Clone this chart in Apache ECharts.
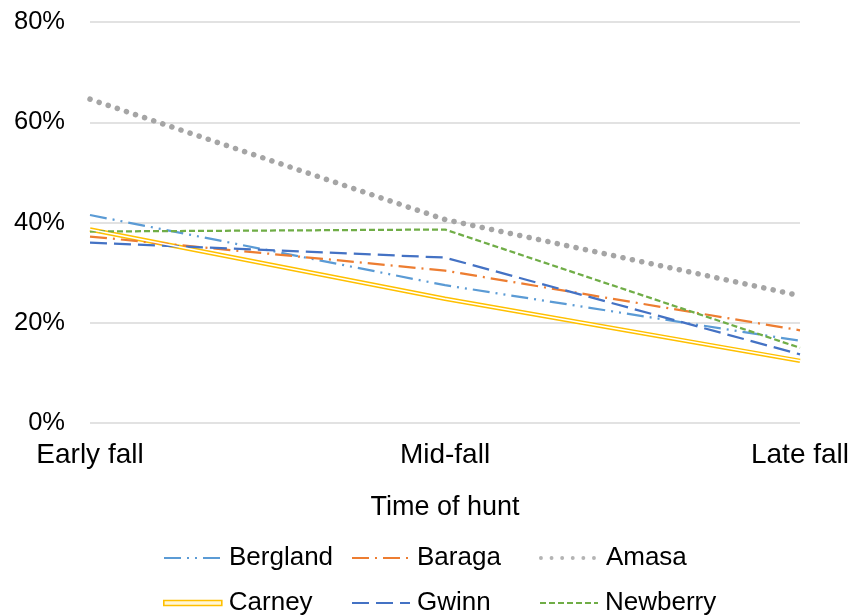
<!DOCTYPE html>
<html>
<head>
<meta charset="utf-8">
<script src="https://cdn.jsdelivr.net/npm/echarts@6/dist/echarts.min.js"></script>
<style>
  html, body { margin: 0; padding: 0; background: #fff; }
  #chart { width: 850px; height: 616px; }
</style>
</head>
<body>
<div id="chart"></div>
<script>
// Hunting periods along the x axis
const periods = ['Early fall', 'Mid-fall', 'Late fall'];

// Share per area (fractions of 1)
const bergland = [0.415, 0.275, 0.164];
const baraga   = [0.372, 0.304, 0.185];
const amasa    = [0.646, 0.406, 0.254];
const carney   = [0.386, 0.248, 0.124];
const gwinn    = [0.360, 0.330, 0.137];
const newberry = [0.382, 0.386, 0.150];

const yTicks = [0, 0.2, 0.4, 0.6, 0.8];

const FONT = '"Liberation Sans", Arial, sans-serif';

function lineSeries(name, data, color, width, type, extra) {
  return Object.assign({
    name: name,
    type: 'line',
    data: data,
    symbol: 'none',
    showSymbol: false,
    silent: true,
    animation: false,
    lineStyle: { color: color, width: width, type: type },
    itemStyle: { color: color }
  }, extra || {});
}

const series = [
  lineSeries('Bergland', bergland, '#5B9BD5', 2.25, [17, 6, 2, 6, 2, 6]),
  lineSeries('Baraga', baraga, '#ED7D31', 2.25, [17, 6, 2, 6]),
  lineSeries('Amasa', amasa, '#A5A5A5', 5, [0.1, 9.5], { lineStyle: { color: '#A5A5A5', width: 5.5, type: [0.1, 9.5], cap: 'round' } }),
  lineSeries('Carney', carney, '#FFC000', 4.5, 'solid', { z: 2 }),
  lineSeries('Gwinn', gwinn, '#4472C4', 2.25, [17, 7]),
  lineSeries('Newberry', newberry, '#70AD47', 2.25, [6, 3]),
  // white core drawn over the Carney stroke for a double-line look
  lineSeries('Carney core', carney, '#FFFFFF', 1.5, 'solid', { z: 3 })
];

// one legend per entry, arranged in a 3 x 2 block
const legendCols = [163, 351, 539];
const legendRows = [545, 590];
const legendNames = ['Bergland', 'Baraga', 'Amasa', 'Carney', 'Gwinn', 'Newberry'];
const legends = legendNames.map(function (n, i) {
  const lg = {
    data: [n],
    left: legendCols[i % 3],
    top: legendRows[Math.floor(i / 3)],
    padding: 0,
    itemWidth: 58,
    itemHeight: 14,
    selectedMode: false,
    itemStyle: { color: 'rgba(0,0,0,0)', borderColor: 'rgba(0,0,0,0)', borderWidth: 0 },
    textStyle: { fontFamily: FONT, fontSize: 26, color: '#000', padding: [0, 0, 0, 2] }
  };
  if (n === 'Amasa') {
    lg.lineStyle = { width: 3.8, cap: 'round', type: [0.1, 10.5], color: '#B4B4B4' };
  }
  if (n === 'Carney') {
    lg.data = [{ name: n, icon: 'rect', itemStyle: { color: '#FFF6D6', borderColor: '#FFC000', borderWidth: 1.6 } }];
    lg.itemHeight = 5;
  }
  return lg;
});

const chart = echarts.init(document.getElementById('chart'), null, { renderer: 'canvas' });
chart.setOption({
  backgroundColor: '#fff',
  animation: false,
  grid: { left: 90, right: 50, top: 22, bottom: 193, containLabel: false, outerBoundsMode: 'none' },
  legend: legends,
  xAxis: {
    type: 'category',
    data: periods,
    boundaryGap: false,
    name: 'Time of hunt',
    nameLocation: 'middle',
    nameGap: 71,
    nameTextStyle: { fontFamily: FONT, fontSize: 27, color: '#000' },
    axisLine: { show: false },
    axisTick: { show: false },
    axisLabel: { fontFamily: FONT, fontSize: 28, color: '#000', margin: 18 },
    splitLine: { show: false }
  },
  yAxis: {
    type: 'value',
    min: 0,
    max: 0.8,
    interval: 0.2,
    axisLine: { show: false },
    axisTick: { show: false },
    axisLabel: {
      fontFamily: FONT, fontSize: 25.5, color: '#000', margin: 25,
      formatter: function (v) { return Math.round(v * 100) + '%'; }
    },
    splitLine: { lineStyle: { color: '#D9D9D9', width: 1.5 } }
  },
  series: series
});
</script>
</body>
</html>
